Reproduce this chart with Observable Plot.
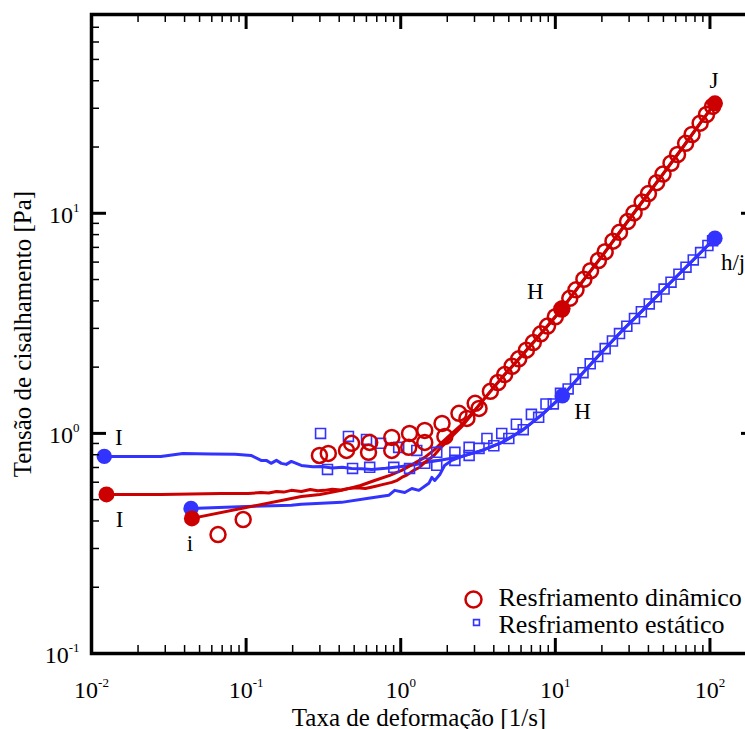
<!DOCTYPE html>
<html><head><meta charset="utf-8">
<script src="https://cdn.jsdelivr.net/npm/d3@7"></script>
<script src="https://cdn.jsdelivr.net/npm/@observablehq/plot@0.6"></script>
<style>
html,body{margin:0;padding:0;background:#fff;overflow:hidden;}
#chart{width:760px;}
</style></head><body><div id="chart"></div>
<script>
// ---------- axis ticks ----------
const xMajor = [0.01, 0.1, 1, 10, 100];
const xTickLabels = ["10^-2", "10^-1", "10^0", "10^1", "10^2"];
const xMinor = [0.02,0.03,0.04,0.05,0.06,0.07,0.08,0.09, 0.2,0.3,0.4,0.5,0.6,0.7,0.8,0.9, 2,3,4,5,6,7,8,9, 20,30,40,50,60,70,80,90];
const yMajor = [0.1, 1, 10];
const yTickLabels = ["10^-1", "10^0", "10^1"];
const yMinor = [0.2,0.3,0.4,0.5,0.6,0.7,0.8,0.9, 2,3,4,5,6,7,8,9, 20,30,40,50,60,70];
const xTitle = "Taxa de deformação [1/s]";
const yTitle = "Tensão de cisalhamento [Pa]";
const legendLabels = ["Resfriamento dinâmico", "Resfriamento estático"];

// ---------- shared high-rate portions ----------
const redCommonX = [3.36, 3.90, 4.53, 5.84, 7.41, 9.57, 11.1, 15.0, 20.2, 27.2, 36.7, 49.5, 66.8, 90.1, 107.7];
const redCommonY = [1.398, 1.585, 1.797, 2.19, 2.647, 3.264, 3.70, 4.91, 6.44, 8.55, 11.34, 15.03, 19.95, 26.7, 31.6];
const blueCommonX = [3.36, 4.53, 6.11, 8.24, 11.1, 15.0, 20.2, 27.2, 36.7, 49.5, 66.8, 90.1, 107.7];
const blueCommonY = [0.837, 0.910, 1.032, 1.22, 1.48, 1.874, 2.359, 2.94, 3.62, 4.467, 5.51, 6.79, 7.70];

// ---------- blue line starting at I ----------
const blueIX = [0.0121, 0.0179, 0.0281, 0.039, 0.0593, 0.085, 0.1076, 0.125, 0.135, 0.145, 0.157, 0.169, 0.182, 0.196, 0.2275, 0.27, 0.307, 0.36, 0.42, 0.481, 0.56, 0.649, 0.80, 1.014, 1.25, 1.59, 2.0, 2.49];
const blueIY = [0.786, 0.786, 0.786, 0.811, 0.806, 0.803, 0.794, 0.754, 0.754, 0.731, 0.754, 0.731, 0.723, 0.746, 0.715, 0.705, 0.708, 0.697, 0.701, 0.693, 0.690, 0.686, 0.694, 0.708, 0.722, 0.746, 0.765, 0.786];
// ---------- blue line starting at i ----------
const blueiX = [0.044, 0.1, 0.196, 0.2275, 0.414, 0.619, 0.836, 0.914, 1.062, 1.18, 1.31, 1.52, 1.59, 1.66, 1.79, 1.92, 2.14, 2.49];
const blueiY = [0.456, 0.465, 0.472, 0.476, 0.486, 0.507, 0.523, 0.551, 0.539, 0.562, 0.551, 0.593, 0.631, 0.611, 0.650, 0.715, 0.754, 0.786];
// ---------- red line starting at I ----------
const redIX = [0.0125, 0.0179, 0.0281, 0.044, 0.0689, 0.103, 0.125, 0.14, 0.157, 0.175, 0.196, 0.2275, 0.26, 0.29, 0.321, 0.36, 0.41, 0.459, 0.52, 0.59, 0.678, 0.76, 0.875, 0.95, 1.014, 1.1, 1.21, 1.32, 1.43, 1.64, 1.85, 2.14, 2.49, 2.89];
const redIY = [0.528, 0.528, 0.528, 0.530, 0.533, 0.533, 0.539, 0.536, 0.545, 0.541, 0.551, 0.545, 0.556, 0.549, 0.551, 0.558, 0.553, 0.562, 0.566, 0.562, 0.574, 0.585, 0.599, 0.612, 0.631, 0.648, 0.679, 0.70, 0.738, 0.794, 0.873, 0.969, 1.076, 1.22];
// ---------- red line starting at i ----------
const rediX = [0.0446, 0.2275, 0.3, 0.414, 0.55, 0.678, 0.85, 1.014, 1.2, 1.43, 1.64, 1.85, 2.14, 2.49, 2.89];
const rediY = [0.411, 0.517, 0.528, 0.551, 0.58, 0.611, 0.645, 0.679, 0.725, 0.778, 0.84, 0.91, 1.0, 1.099, 1.233];

// ---------- blue squares (Resfriamento estático), two runs ----------
const sq1X = [0.303, 0.459, 0.601, 0.741, 0.970, 1.27, 1.71, 2.24, 2.77, 3.61, 4.5, 5.6, 7.0, 8.7, 10.8, 13.5, 16.8, 21, 26, 32.5, 40.5, 50.5, 63, 78, 97];
const sq1Y = [1.0, 0.969, 0.939, 0.901, 0.864, 0.837, 0.820, 0.820, 0.864, 0.949, 1.0, 1.10, 1.22, 1.36, 1.52, 1.76, 2.07, 2.427, 2.840, 3.327, 3.873, 4.524, 5.283, 6.14, 7.14];
const sq2X = [0.336, 0.488, 0.630, 0.902, 1.14, 1.43, 1.71, 2.24, 2.77, 3.21, 4.0, 5.0, 6.2, 7.8, 9.7, 12.1, 15.1, 18.8, 23.4, 29, 36, 45, 56, 70, 87, 104];
const sq2Y = [0.686, 0.693, 0.701, 0.701, 0.693, 0.731, 0.716, 0.754, 0.794, 0.855, 0.879, 0.948, 1.040, 1.183, 1.361, 1.592, 1.887, 2.234, 2.628, 3.068, 3.571, 4.174, 4.864, 5.69, 6.63, 7.51];

// ---------- red circles (Resfriamento dinâmico), two runs ----------
const ci1X = [0.298, 0.481, 0.630, 0.875, 1.14, 1.43, 1.85, 2.38, 3.03, 3.8, 4.7, 5.8, 7.2, 8.9, 11.0, 13.6, 16.9, 21, 26, 32.3, 40, 49.7, 61.7, 76.6, 95];
const ci1Y = [0.794, 0.901, 0.910, 0.959, 1.0, 1.032, 1.11, 1.233, 1.369, 1.552, 1.850, 2.181, 2.585, 3.072, 3.670, 4.489, 5.484, 6.684, 8.19, 10.04, 12.29, 15.07, 18.49, 22.79, 28.11];
const ci2X = [0.0658, 0.0957, 0.340, 0.446, 0.619, 0.875, 1.127, 1.43, 1.93, 2.68, 3.21, 4.25, 5.25, 6.5, 8.05, 10, 12.4, 15.3, 19, 23.6, 29.3, 36.4, 45.2, 56, 69.6, 86.4, 104];
const ci2Y = [0.347, 0.406, 0.811, 0.837, 0.820, 0.837, 0.864, 0.910, 0.969, 1.17, 1.299, 1.702, 2.018, 2.388, 2.833, 3.388, 4.106, 5.013, 6.102, 7.469, 9.167, 11.24, 13.78, 16.87, 20.78, 25.67, 30.6];

// ---------- filled state points ----------
const blueStateX = [0.0121, 0.044, 11.1, 107.7];
const blueStateY = [0.786, 0.456, 1.48, 7.70];
const redStateX = [0.0125, 0.0446, 11.1, 107.7];
const redStateY = [0.528, 0.411, 3.70, 31.6];

// ---------- annotations ----------
const noteText = ["I", "I", "i", "H", "H", "J", "h/j"];
const noteX = [0.0150, 0.0152, 0.0433, 7.41, 15.0, 106, 141];
const noteY = [0.959, 0.407, 0.316, 4.42, 1.259, 40.2, 5.99];

// ---------- layout ----------
const W = 760, H = 729, mL = 91, mT = 14, mR = 4, mB = 76;
const innerW = W - mL - mR, innerH = H - mT - mB;
const RED = "#cc0000", BLUE = "#3333ff";
const FONT = "'Liberation Serif', 'Times New Roman', serif";
const pts = (xs, ys) => xs.map((x, i) => ({x, y: ys[i]}));

const plot = Plot.plot({
  width: W, height: H,
  marginLeft: mL, marginTop: mT, marginRight: mR, marginBottom: mB,
  style: "max-width:none;background:white;font-family:'Liberation Serif',serif;",
  x: {type: "log", domain: [0.01, 200], axis: null},
  y: {type: "log", domain: [0.1, 80], axis: null},
  marks: [
    // data lines
    Plot.line(pts(blueIX.concat(blueCommonX), blueIY.concat(blueCommonY)), {x: "x", y: "y", stroke: BLUE, strokeWidth: 3}),
    Plot.line(pts(blueiX.concat(blueCommonX), blueiY.concat(blueCommonY)), {x: "x", y: "y", stroke: BLUE, strokeWidth: 3}),
    Plot.line(pts(redIX.concat(redCommonX), redIY.concat(redCommonY)), {x: "x", y: "y", stroke: RED, strokeWidth: 3}),
    Plot.line(pts(rediX.concat(redCommonX), rediY.concat(redCommonY)), {x: "x", y: "y", stroke: RED, strokeWidth: 3}),
    // markers
    Plot.dot(pts(sq1X, sq1Y), {x: "x", y: "y", symbol: "square", r: 5.6, stroke: BLUE, strokeWidth: 1.6, fill: "none"}),
    Plot.dot(pts(sq2X, sq2Y), {x: "x", y: "y", symbol: "square", r: 5.6, stroke: BLUE, strokeWidth: 1.6, fill: "none"}),
    Plot.dot(pts(ci1X, ci1Y), {x: "x", y: "y", r: 7.5, stroke: RED, strokeWidth: 2.5, fill: "none"}),
    Plot.dot(pts(ci2X, ci2Y), {x: "x", y: "y", r: 7.5, stroke: RED, strokeWidth: 2.5, fill: "none"}),
    // filled state points
    Plot.dot(pts(blueStateX, blueStateY), {x: "x", y: "y", r: 7.7, fill: BLUE}),
    Plot.dot(pts(redStateX, redStateY), {x: "x", y: "y", r: 8, fill: RED}),
    // annotations
    Plot.text(pts(noteX, noteY), {x: "x", y: "y", text: (d, i) => noteText[i], fontSize: 23, fontFamily: FONT, fill: "black"}),
    // frame
    Plot.frame({stroke: "black", strokeWidth: 3.5}),
    // ticks (inward on all four sides)
    Plot.ruleX(xMinor, {x: d => d, insetTop: innerH - 8, stroke: "black", strokeWidth: 1.5}),
    Plot.ruleX(xMinor, {x: d => d, insetBottom: innerH - 8, stroke: "black", strokeWidth: 1.5}),
    Plot.ruleX(xMajor, {x: d => d, insetTop: innerH - 15, stroke: "black", strokeWidth: 3}),
    Plot.ruleX(xMajor, {x: d => d, insetBottom: innerH - 15, stroke: "black", strokeWidth: 3}),
    Plot.ruleY(yMinor, {y: d => d, insetRight: innerW - 8, stroke: "black", strokeWidth: 1.5}),
    Plot.ruleY(yMinor, {y: d => d, insetLeft: innerW - 8, stroke: "black", strokeWidth: 1.5}),
    Plot.ruleY(yMajor, {y: d => d, insetRight: innerW - 15, stroke: "black", strokeWidth: 3}),
    Plot.ruleY(yMajor, {y: d => d, insetLeft: innerW - 15, stroke: "black", strokeWidth: 3}),
    // tick labels
    Plot.text(xMajor, {x: d => d, text: (d, i) => xTickLabels[i], frameAnchor: "bottom", textAnchor: "middle", lineAnchor: "middle", dy: 37, fontSize: 24, fontFamily: FONT, fill: "black"}),
    Plot.text(yMajor, {y: d => d, text: (d, i) => yTickLabels[i], frameAnchor: "left", textAnchor: "end", lineAnchor: "middle", dx: -12, dy: 2, fontSize: 24, fontFamily: FONT, fill: "black"}),
    // axis titles
    Plot.text([xTitle], {text: d => d, frameAnchor: "bottom", textAnchor: "middle", lineAnchor: "middle", dx: -5, dy: 64, fontSize: 25, fontFamily: FONT, fill: "black"}),
    Plot.text([yTitle], {text: d => d, frameAnchor: "left", textAnchor: "middle", lineAnchor: "middle", dx: -69, rotate: -90, fontSize: 25, fontFamily: FONT, fill: "black"}),
    // legend
    Plot.dot([0], {frameAnchor: "bottom-right", dx: -283, dy: -54, r: 8, stroke: RED, strokeWidth: 2.5, fill: "none"}),
    Plot.dot([0], {frameAnchor: "bottom-right", dx: -280, dy: -31, r: 3.3, symbol: "square", stroke: BLUE, strokeWidth: 1.6, fill: "none"}),
    Plot.text([legendLabels[0]], {text: d => d, frameAnchor: "bottom-right", textAnchor: "start", lineAnchor: "middle", dx: -258, dy: -56, fontSize: 26, fontFamily: FONT, fill: "black"}),
    Plot.text([legendLabels[1]], {text: d => d, frameAnchor: "bottom-right", textAnchor: "start", lineAnchor: "middle", dx: -258, dy: -29, fontSize: 26, fontFamily: FONT, fill: "black"})
  ]
});

// render "10^n" tick labels with a real superscript
d3.select(plot).selectAll("text").each(function () {
  const t = this.textContent;
  if (!t.includes("^")) return;
  const [b, e] = t.split("^");
  const s = d3.select(this);
  s.text(null);
  s.append("tspan").text(b);
  s.append("tspan").attr("font-size", 13).attr("dy", -11).text(e);
});

document.getElementById("chart").appendChild(plot);
</script>
</body></html>
